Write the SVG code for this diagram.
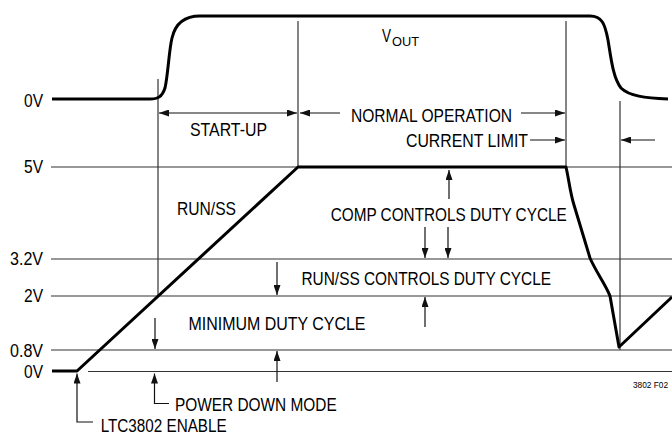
<svg xmlns="http://www.w3.org/2000/svg" width="672" height="434" viewBox="0 0 672 434">
<style>
text{font-family:"Liberation Sans",Arial,sans-serif;font-size:17.5px;fill:#000}
.grid{stroke:#333;stroke-width:1.2;fill:none}
.thick{stroke:#000;stroke-width:3;fill:none;stroke-linejoin:round}
.arr{stroke:#111;stroke-width:1.2;fill:none;marker-end:url(#ah)}
.arr2{stroke:#111;stroke-width:1.2;fill:none;marker-end:url(#ah);marker-start:url(#ahs)}
.small{font-size:9.5px}
</style>
<defs>
<marker id="ah" markerUnits="userSpaceOnUse" viewBox="0 0 10 7" refX="10" refY="3.5" markerWidth="10" markerHeight="7" orient="auto"><path d="M0,0 L10,3.5 L0,7 z" fill="#111"/></marker>
<marker id="ahs" markerUnits="userSpaceOnUse" viewBox="0 0 10 7" refX="10" refY="3.5" markerWidth="10" markerHeight="7" orient="auto-start-reverse"><path d="M0,0 L10,3.5 L0,7 z" fill="#111"/></marker>
</defs>
<g id="grid">
<line class="grid" x1="51" y1="167" x2="672" y2="167"/>
<line class="grid" x1="51" y1="259" x2="672" y2="259"/>
<line class="grid" x1="51" y1="296" x2="672" y2="296"/>
<line class="grid" x1="51" y1="350" x2="672" y2="350"/>
<line class="grid" x1="88" y1="371.5" x2="672" y2="371.5"/>
<line class="grid" x1="158" y1="79" x2="158" y2="296"/>
<line class="grid" x1="298" y1="21" x2="298" y2="167"/>
<line class="grid" x1="566" y1="21" x2="566" y2="167"/>
<line class="grid" x1="620" y1="101" x2="620" y2="350"/>
</g>
<g id="vout">
<path class="thick" d="M52,99 L150,99 C158,99 162,97 165,88 C168,75 169,50 172,38 C175,25 183,16 200,16 L590,16 C602,16 605,24 608,40 C611,58 613,78 621,88 C629,96 645,98 668,99"/>
<text x="382" y="41.7" style="font-size:18.5px" textLength="9" lengthAdjust="spacingAndGlyphs">V</text>
<text x="392" y="45.7" style="font-size:13.5px" textLength="27" lengthAdjust="spacingAndGlyphs">OUT</text>
</g>
<g id="runss">
<path class="thick" d="M52,371 L77,371 L298,167 L566,167 C569,180 570,192 574,205 L590,258 C596,272 606,285 610,296 L619,347 L672,297"/>
<text x="177" y="215" textLength="59" lengthAdjust="spacingAndGlyphs">RUN/SS</text>
</g>
<g id="labels">
<text x="24" y="106.5" textLength="19" lengthAdjust="spacingAndGlyphs">0V</text>
<text x="24" y="172.5" textLength="19" lengthAdjust="spacingAndGlyphs">5V</text>
<text x="10" y="265" textLength="33" lengthAdjust="spacingAndGlyphs">3.2V</text>
<text x="24" y="301.7" textLength="19" lengthAdjust="spacingAndGlyphs">2V</text>
<text x="10" y="356.7" textLength="33" lengthAdjust="spacingAndGlyphs">0.8V</text>
<text x="24" y="378.3" textLength="19" lengthAdjust="spacingAndGlyphs">0V</text>
</g>
<g id="connectors">
<line class="arr2" x1="159" y1="113" x2="297" y2="113"/>
<line class="arr" x1="340" y1="113" x2="300" y2="113"/>
<line class="arr" x1="521" y1="113" x2="565" y2="113"/>
<line class="arr" x1="530" y1="140" x2="565" y2="140"/>
<line class="arr" x1="655" y1="140" x2="621" y2="140"/>
<line class="arr" x1="449" y1="199" x2="449" y2="170"/>
<line class="arr" x1="425" y1="227" x2="425" y2="258"/>
<line class="arr" x1="448" y1="227" x2="448" y2="258"/>
<line class="arr" x1="277" y1="262" x2="277" y2="295"/>
<line class="arr" x1="425" y1="327" x2="425" y2="297"/>
<line class="arr" x1="155" y1="318" x2="155" y2="349"/>
<line class="arr" x1="277" y1="382" x2="277" y2="351"/>
<path class="arr" d="M169,403.5 L154.5,403.5 L154.5,373.5"/>
<path class="arr" d="M93,422 L77,422 L77,373.5"/>
</g>
<g id="texts">
<text x="190" y="136" textLength="77" lengthAdjust="spacingAndGlyphs">START-UP</text>
<text x="351" y="121.7" textLength="161" lengthAdjust="spacingAndGlyphs">NORMAL OPERATION</text>
<text x="406" y="146.7" textLength="122" lengthAdjust="spacingAndGlyphs">CURRENT LIMIT</text>
<text x="330.7" y="221" textLength="236" lengthAdjust="spacingAndGlyphs">COMP CONTROLS DUTY CYCLE</text>
<text x="301.5" y="285" textLength="249.5" lengthAdjust="spacingAndGlyphs">RUN/SS CONTROLS DUTY CYCLE</text>
<text x="188.5" y="330" textLength="177" lengthAdjust="spacingAndGlyphs">MINIMUM DUTY CYCLE</text>
<text x="175" y="410.7" textLength="161.7" lengthAdjust="spacingAndGlyphs">POWER DOWN MODE</text>
<text x="100.7" y="431.5" textLength="126" lengthAdjust="spacingAndGlyphs">LTC3802 ENABLE</text>
<text class="small" x="633" y="388" textLength="35" lengthAdjust="spacingAndGlyphs">3802 F02</text>
</g>
</svg>
